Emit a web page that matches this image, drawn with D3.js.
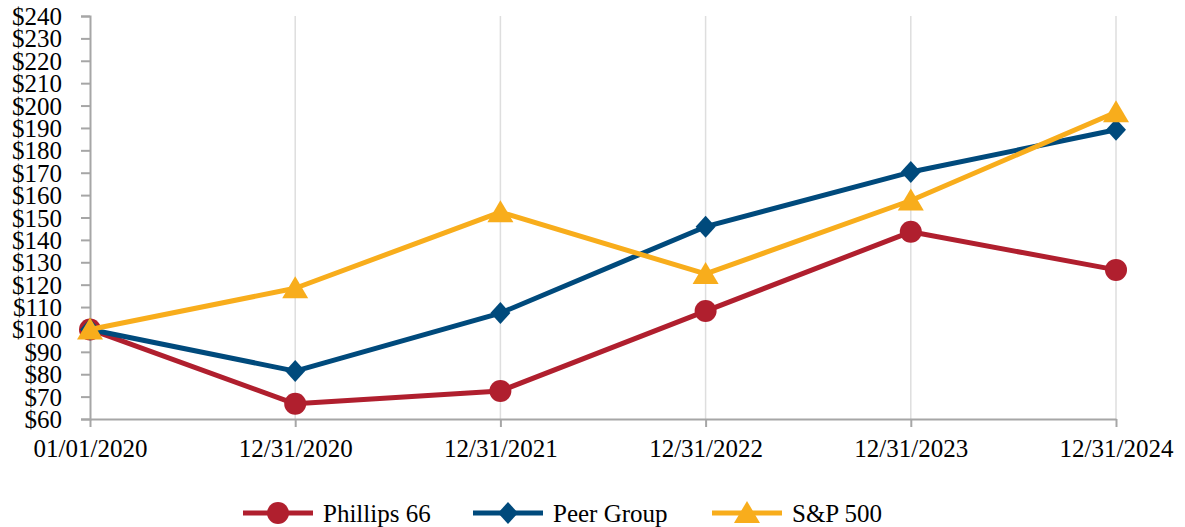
<!DOCTYPE html>
<html>
<head>
<meta charset="utf-8">
<script src="https://cdn.jsdelivr.net/npm/d3@7"></script>
<style>
  html, body { margin: 0; padding: 0; background: #fff; }
  svg text { font-family: "Liberation Serif", "Times New Roman", serif; fill: #000; }
</style>
</head>
<body>
<svg id="chart" width="1185" height="527"></svg>
<script>
const categories = ["01/01/2020", "12/31/2020", "12/31/2021", "12/31/2022", "12/31/2023", "12/31/2024"];
const phillips66 = [100, 66.8, 72.5, 108.2, 143.6, 126.6];
const peerGroup  = [100, 81.4, 107.3, 145.9, 170.3, 189.2];
const sp500      = [100, 118.4, 152.4, 124.8, 157.6, 197.0];
const yTicks = d3.range(60, 241, 10);
const seriesNames = ["Phillips 66", "Peer Group", "S&P 500"];
const seriesColors = ["#B01F2E", "#004A7C", "#F8AD1C"];
const seriesShapes = ["circle", "diamond", "triangle"];

const svg = d3.select("#chart");
const x = d3.scalePoint().domain(categories).range([90, 1116]);
const y = d3.scaleLinear().domain([60, 240]).range([419, 16]);

// vertical gridlines
svg.append("g").selectAll("line").data(categories.slice(1)).join("line")
  .attr("x1", d => x(d)).attr("x2", d => x(d))
  .attr("y1", y(240)).attr("y2", y(60))
  .attr("stroke", "#dedede").attr("stroke-width", 1.5);

// y axis
const yAxis = d3.axisLeft(y).tickValues(yTicks).tickSize(9).tickPadding(19)
  .tickFormat(d => "$" + d);
const gy = svg.append("g").attr("transform", "translate(90,0)").call(yAxis)
  .attr("font-family", null);
gy.select(".domain").attr("stroke", "#a6a6a6").attr("stroke-width", 2);
gy.selectAll(".tick line").attr("stroke", "#a6a6a6").attr("stroke-width", 2);
gy.selectAll(".tick text").attr("font-size", 25).attr("dy", "0.34em");

// x axis
const xAxis = d3.axisBottom(x).tickSize(8).tickPadding(12).tickSizeOuter(0);
const gx = svg.append("g").attr("transform", "translate(0,419)").call(xAxis)
  .attr("font-family", null);
gx.select(".domain").attr("stroke", "#a6a6a6").attr("stroke-width", 2);
gx.selectAll(".tick line").attr("stroke", "#a6a6a6").attr("stroke-width", 2);
gx.selectAll(".tick text").attr("font-size", 25);

const allSeries = [phillips66, peerGroup, sp500];
const line = d3.line().x((d, i) => x(categories[i])).y(d => y(d));

function drawMarker(g, shape, cx, cy, color) {
  if (shape === "circle") {
    g.append("circle").attr("cx", cx).attr("cy", cy).attr("r", 11).attr("fill", color);
  } else if (shape === "diamond") {
    g.append("path").attr("d", `M${cx},${cy-11}L${cx+10},${cy}L${cx},${cy+11}L${cx-10},${cy}Z`).attr("fill", color);
  } else {
    g.append("path").attr("d", `M${cx},${cy-12}L${cx+13},${cy+10}L${cx-13},${cy+10}Z`).attr("fill", color);
  }
}

allSeries.forEach((vals, s) => {
  const g = svg.append("g");
  g.append("path").datum(vals).attr("d", line)
    .attr("fill", "none").attr("stroke", seriesColors[s]).attr("stroke-width", 5)
    .attr("stroke-linejoin", "round");
  vals.forEach((v, i) => drawMarker(g, seriesShapes[s], x(categories[i]), y(v), seriesColors[s]));
});

// legend
const legendX = [243, 473, 712];
const legendY = 513;
seriesNames.forEach((name, s) => {
  const g = svg.append("g");
  g.append("line").attr("x1", legendX[s]).attr("x2", legendX[s] + 70)
    .attr("y1", legendY).attr("y2", legendY)
    .attr("stroke", seriesColors[s]).attr("stroke-width", 5);
  drawMarker(g, seriesShapes[s], legendX[s] + 35, legendY, seriesColors[s]);
  g.append("text").attr("x", legendX[s] + 80).attr("y", legendY + 8.5)
    .attr("font-size", 25).text(name);
});
</script>
</body>
</html>
